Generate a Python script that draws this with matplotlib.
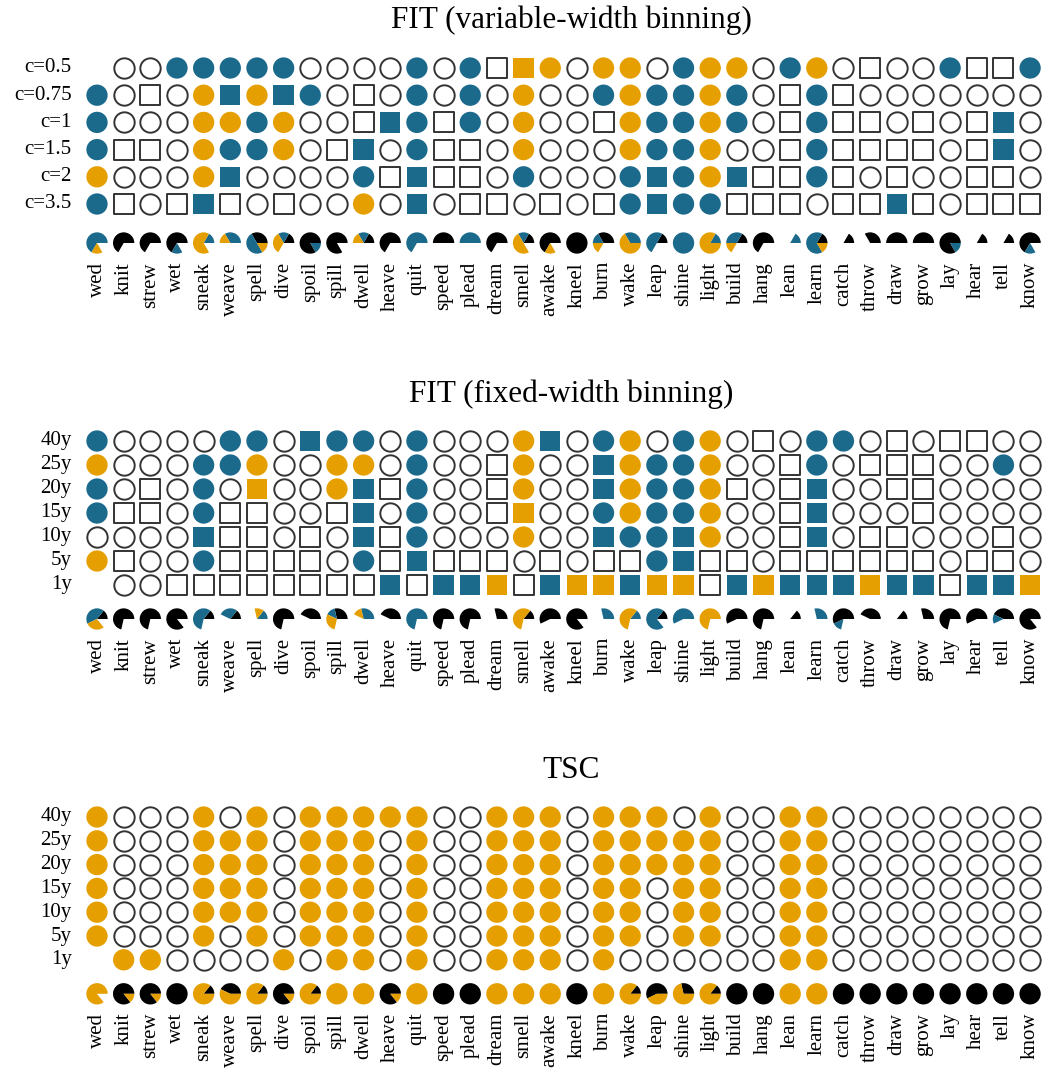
import numpy as np
import matplotlib
matplotlib.use("Agg")
import matplotlib.pyplot as plt
from matplotlib.patches import Wedge

plt.rcParams['font.family'] = ['Liberation Serif', 'DejaVu Serif']

words = ["wed", "knit", "strew", "wet", "sneak", "weave", "spell", "dive", "spoil",
         "spill", "dwell", "heave", "quit", "speed", "plead", "dream", "smell", "awake",
         "kneel", "burn", "wake", "leap", "shine", "light", "build", "hang", "lean",
         "learn", "catch", "throw", "draw", "grow", "lay", "hear", "tell", "know"]

# cell codes: o white circle, s white square, B blue circle, Q blue square,
#             O orange circle, S orange square, . nothing
var_rows = ["c=0.5", "c=0.75", "c=1", "c=1.5", "c=2", "c=3.5"]
var_cells = [
    ".ooBBBBBooooBoBsS" + "OoOOoBOOoBOosooBssB",
    "BosoOQOQBosoBoBoO" + "ooBOBBOBosBsooooooo",
    "BoooOOBOoosQBsBoO" + "oosOBBOBosBssososQo",
    "BssoOBBOosQoBssoO" + "oooOBBOoosBssssosQo",
    "OoooOQooooBsQssoB" + "oooBQBOQssBsosoosso",
    "BsosQsosooOoQosso" + "sosBQBBsssossQsosss",
]

fixed_rows = ["40y", "25y", "20y", "15y", "10y", "5y", "1y"]
fixed_cells = [
    "BooooBBoQBBoBoooO" + "QoBOoBOosoBBosossoo",
    "OoooBBOooOOoBoosO" + "ooQOBBOoosBosssooBo",
    "BosoBoSooOQsBoosO" + "ooQOBBOsosQoossoooo",
    "BssoBssoosQoBoosS" + "ooBOBBOoosQooosoooo",
    "ooooQssosoQsBoooO" + "ooQBBQOoosQossoooso",
    "OsooBssssoBsQssso" + "sossBQssossssssosso",
    ".oossssssssQsQQSs" + "QSSQSSsQSQQQSQQsQQS",
]

tsc_rows = ["40y", "25y", "20y", "15y", "10y", "5y", "1y"]
tsc_cells = [
    "OoooOoOoOOOOOooOO" + "OoOOOoOooOO" + "oooooooo",
    "OoooOOOoOOOoOooOO" + "OoOOOOOooOO" + "oooooooo",
    "OoooOOOoOOOoOooOO" + "OoOOOOOooOO" + "oooooooo",
    "OoooOOOoOOOoOooOO" + "OoOOoOOooOO" + "oooooooo",
    "OoooOOOoOOOoOooOO" + "OoOOoOOooOO" + "oooooooo",
    "OoooOoOoOOOoOooOO" + "OoOOoOOooOO" + "oooooooo",
    ".OOooooOoOOoOooOO" + "OoOooooooOO" + "oooooooo",
]

BLUE = "#1b6a8c"
ORANGE = "#e69f00"
EDGE = "#333333"

styles = {
    "o": ("o", "white"), "s": ("s", "white"),
    "B": ("o", BLUE), "Q": ("s", BLUE),
    "O": ("o", ORANGE), "S": ("s", ORANGE),
}

W, H = 1048, 1081
COL_PX = 26.66
X0_PX = 97

fig = plt.figure(figsize=(W / 100, H / 100), dpi=100)


def panel(title, rows, cells, top_px, row_px, pie_gap_px, title_px):
    n = len(rows)
    ys = -np.arange(n) * row_px / COL_PX
    pie_y = ys[-1] - pie_gap_px / COL_PX
    y_top, y_bot = 0.6, pie_y - 0.6
    h_px = (y_top - y_bot) * COL_PX
    top_edge = top_px - y_top * COL_PX
    ax = fig.add_axes([(X0_PX - 0.5 * COL_PX) / W, 1 - (top_edge + h_px) / H,
                       36 * COL_PX / W, h_px / H])
    ax.set_xlim(-0.5, 35.5)
    ax.set_ylim(y_bot, y_top)
    ax.axis("off")

    for r, row in enumerate(cells):
        for code, (mk, fc) in styles.items():
            xs = [i for i, ch in enumerate(row) if ch == code]
            if not xs:
                continue
            size = 215 if mk == "o" else 195
            if fc == "white":
                ax.scatter(xs, [ys[r]] * len(xs), marker=mk, s=size, facecolor="white",
                           edgecolor=EDGE, linewidth=1.4, zorder=3)
            else:
                ax.scatter(xs, [ys[r]] * len(xs), marker=mk, s=size + 20, facecolor=fc,
                           edgecolor="none", zorder=3)
        ax.text(-0.95, ys[r], rows[r], ha="right", va="center", fontsize=15)

    # pie per word: share of white / blue / orange circles, squares and gaps left empty
    for i in range(len(words)):
        col = [row[i] for row in cells]
        parts = [(col.count("o"), "black"), (col.count("B"), BLUE), (col.count("O"), ORANGE)]
        start = 0.0
        for cnt, colr in parts:
            if cnt == 0:
                continue
            ext = 360.0 * cnt / n
            ax.add_patch(Wedge((i, pie_y), 0.40, start, start + ext, facecolor=colr,
                               edgecolor="none", zorder=3))
            start += ext
        ax.text(i, pie_y - 19 / COL_PX, words[i], rotation=90, ha="center", va="top",
                fontsize=15, clip_on=False)

    ax.text(17.8, (top_px - title_px) / COL_PX, title, ha="center", va="center",
            fontsize=22.5, clip_on=False)


panel("FIT (variable-width binning)", var_rows, var_cells, 68, 27.2, 39, 20)
panel("FIT (fixed-width binning)", fixed_rows, fixed_cells, 441, 24.0, 34, 394)
panel("TSC", tsc_rows, tsc_cells, 817, 23.8, 34, 771)

fig.savefig("out.png", dpi=100)
